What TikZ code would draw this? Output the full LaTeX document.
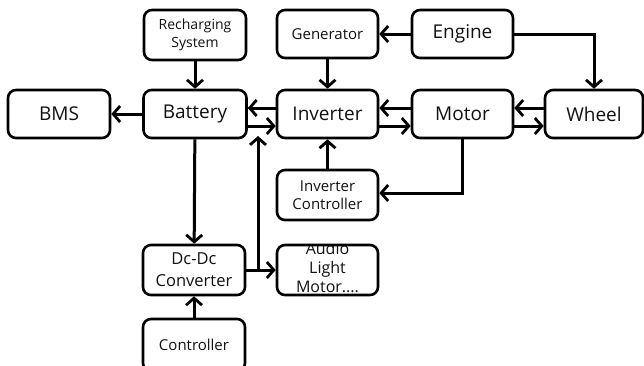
\documentclass[tikz,border=0pt]{standalone}
\usepackage{fontspec}
\setmainfont{Open Sans}
\usetikzlibrary{arrows.meta,calc}
\definecolor{txt}{HTML}{111111}
\tikzset{
  blk/.style={draw=black, line width=2.6pt, rounded corners=8pt, inner sep=0pt,
    align=center, text=txt},
  big/.style={font=\fontsize{19}{22}\selectfont},
  arr/.style={line width=3pt, -{Straight Barb[length=7pt,width=16pt,line width=2.8pt]}},
}
\begin{document}
\begin{tikzpicture}[x=1pt,y=-1pt]
\useasboundingbox (0,0) rectangle (644,365);
\node[blk, minimum width=102pt, minimum height=50pt, font=\fontsize{14}{18}\selectfont] (rech) at (195,35) {Recharging\\System};
\node[blk, big, minimum width=102pt, minimum height=48pt] (bms) at (59,114) {BMS};
\node[blk, big, minimum width=103pt, minimum height=48pt] (bat) at (195,114) {Battery};
\node[blk, minimum width=101pt, minimum height=48pt, font=\fontsize{15}{18}\selectfont] (gen) at (327.5,34) {Generator};
\node[blk, big, minimum width=101pt, minimum height=48pt] (eng) at (462.5,34) {Engine};
\node[blk, big, minimum width=101pt, minimum height=48pt] (inv) at (327.5,114) {Inverter};
\node[blk, big, minimum width=101pt, minimum height=48pt] (mot) at (462.5,114) {Motor};
\node[blk, big, minimum width=98pt, minimum height=48pt] (whl) at (594,114) {Wheel};
\node[blk, minimum width=101pt, minimum height=50pt, font=\fontsize{15}{18}\selectfont] (ictl) at (327.5,195) {Inverter\\Controller};
\node[blk, minimum width=102pt, minimum height=50pt, font=\fontsize{16.5}{22}\selectfont] (dcdc) at (194,270) {Dc-Dc\\Converter};
\node[blk, minimum width=102pt, minimum height=52pt, font=\fontsize{15}{18}\selectfont] (ctl) at (194,345) {Controller};
\begin{scope}
  \clip[rounded corners=8pt] (277,245) rectangle (378,295);
  \node[align=center, text=txt, inner sep=0pt, font=\fontsize{16}{19}\selectfont] (audiotxt) at (327.5,268) {Audio\\Light\\Motor....};
\end{scope}
\node[blk, minimum width=101pt, minimum height=50pt] (audio) at (327.5,270) {};

\coordinate (j) at (258,270);
\coordinate (jt) at (258,136);

\draw[arr] (rech) -- (bat);
\draw[arr] (bat) -- (bms);
\draw[arr] ($(inv.west)+(0,-6)$) -- ($(bat.east)+(0,-6)$);
\draw[arr] ($(bat.east)+(0,12)$) -- ($(inv.west)+(0,12)$);
\draw[arr] ($(mot.west)+(0,-6)$) -- ($(inv.east)+(0,-6)$);
\draw[arr] ($(inv.east)+(0,12)$) -- ($(mot.west)+(0,12)$);
\draw[arr] ($(whl.west)+(0,-6)$) -- ($(mot.east)+(0,-6)$);
\draw[arr] ($(mot.east)+(0,12)$) -- ($(whl.west)+(0,12)$);
\draw[arr] (eng) -- (gen);
\draw[arr] (gen) -- (inv);
\draw[arr] (eng.east) -| (whl.north);
\draw[arr] (mot.south) |- ($(ictl.east)+(0,-2)$);
\draw[arr] (ictl) -- (inv);
\draw[arr] (bat) -- (dcdc);
\draw[arr] (ctl) -- (dcdc);
\draw[arr] (dcdc.east) -- (audio.west);
\draw[arr] (j) -- (jt);
\end{tikzpicture}
\end{document}
